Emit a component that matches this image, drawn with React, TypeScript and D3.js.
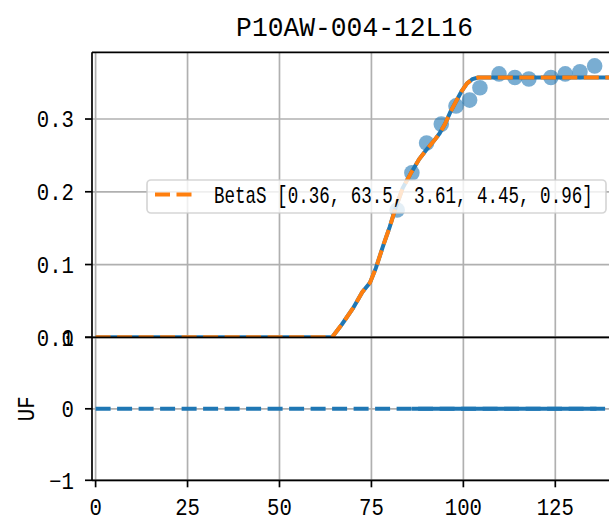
import React from "react";
import * as d3 from "d3";

const title = "P10AW-004-12L16";
const xTicks = [0, 25, 50, 75, 100, 125];
const yTopTicks = [0, 0.1, 0.2, 0.3];
const yTopLabels = ["0.0", "0.1", "0.2", "0.3"];
const yBotTicks = [-1, 0, 1];
const yBotLabels = ["\u22121", "0", "1"];

// observed data points
const pointX = [82, 86, 90, 94, 98, 101.7, 104.5, 109.7, 114, 117.8, 123.8, 127.7, 131.7, 135.7];
const pointY = [0.175, 0.226, 0.267, 0.293, 0.318, 0.326, 0.343, 0.362, 0.357, 0.355, 0.357, 0.362, 0.365, 0.373];

// fitted BetaS curve
const fitX = [0, 64.3, 67, 70, 72.5, 74.6, 76.2, 78.2, 80, 81.4, 83.5, 86, 88, 90, 92, 93.5, 95, 96.5, 98, 99.5, 101, 102.5, 104, 106, 110, 140, 175];
const fitY = [0, 0, 0.018, 0.04, 0.062, 0.075, 0.095, 0.126, 0.152, 0.175, 0.205, 0.228, 0.245, 0.258, 0.27, 0.28, 0.293, 0.31, 0.324, 0.338, 0.349, 0.355, 0.357, 0.357, 0.357, 0.357, 0.357];

// bottom panel (UF)
const ufLineX = [0, 175];
const ufLineY = [0, 0];
const ufX = [86, 90, 94, 98, 101.7, 104.5, 109.7, 114, 117.8, 123.8, 127.7, 131.7, 136.2];
const ufY = [0, 0, 0, 0, 0, 0, 0, 0, 0, 0, 0, 0, 0];

const legendLabel = "BetaS [0.36, 63.5, 3.61, 4.45, 0.96]";
const yLabel = "UF";

const BLUE = "#1f77b4";
const ORANGE = "#ff7f0e";
const GRID = "#b0b0b0";
const FONT = "'Liberation Mono', 'DejaVu Sans Mono', monospace";

export default function App() {
  const left = 92;
  const right = 609;
  const topY0 = 52.3;
  const midY = 337.3;
  const botY1 = 480.3;

  const x = d3.scaleLinear().domain([-0.98, 139.6]).range([left, right]);
  const yTop = d3.scaleLinear().domain([0, 0.3917]).range([midY, topY0]);
  const yBot = d3.scaleLinear().domain([-1, 1]).range([botY1, midY]);

  const lineTop = d3.line<number>().x((_, i) => x(fitX[i])).y((d) => yTop(d));
  const fitPath = lineTop(fitY) || "";
  const ufLine = d3.line<number>().x((_, i) => x(ufLineX[i])).y((d) => yBot(d))(ufLineY) || "";
  const ufSeg = d3.line<number>().x((_, i) => x(ufX[i])).y((d) => yBot(d))(ufY) || "";

  const lw = 4;
  const dash = "15,6.5";
  const tickFs = 23;
  const sx = 12.4 / (0.6 * tickFs);

  return (
    <svg
      width={609}
      height={522}
      style={{ position: "absolute", left: 0, top: 0, background: "white", overflow: "hidden" }}
      fontFamily={FONT}
    >
      <defs>
        <clipPath id="clipTop">
          <rect x={left} y={topY0} width={right - left + 5} height={midY - topY0} />
        </clipPath>
        <clipPath id="clipBot">
          <rect x={left} y={midY} width={right - left + 5} height={botY1 - midY} />
        </clipPath>
      </defs>
      <rect x={0} y={0} width={609} height={522} fill="white" />

      {/* title */}
      <text transform={`translate(354.5,36) scale(${237 / (15 * 0.6 * 28)},1)`} textAnchor="middle" fontSize={28} fill="#000">
        {title}
      </text>

      {/* top grid */}
      <g stroke={GRID} strokeWidth={1.7}>
        {xTicks.map((t) => (
          <line key={"gx" + t} x1={x(t)} x2={x(t)} y1={topY0} y2={midY} />
        ))}
        {yTopTicks.map((t) => (
          <line key={"gy" + t} x1={left} x2={right + 5} y1={yTop(t)} y2={yTop(t)} />
        ))}
      </g>
      {/* bottom grid */}
      <g stroke={GRID} strokeWidth={1.7}>
        {xTicks.map((t) => (
          <line key={"bgx" + t} x1={x(t)} x2={x(t)} y1={midY} y2={botY1} />
        ))}
        {yBotTicks.map((t) => (
          <line key={"bgy" + t} x1={left} x2={right + 5} y1={yBot(t)} y2={yBot(t)} />
        ))}
      </g>

      {/* top data */}
      <g clipPath="url(#clipTop)">
        {pointY.map((v, i) => (
          <circle key={"p" + i} cx={x(pointX[i])} cy={yTop(v)} r={7.8} fill={BLUE} fillOpacity={0.6} />
        ))}
        <path d={fitPath} fill="none" stroke={BLUE} strokeWidth={lw} />
        <path d={fitPath} fill="none" stroke={ORANGE} strokeWidth={lw} strokeDasharray={dash} />
      </g>

      {/* bottom data */}
      <g clipPath="url(#clipBot)">
        <path d={ufLine} fill="none" stroke={BLUE} strokeWidth={lw} strokeDasharray={dash} />
        <path d={ufSeg} fill="none" stroke={BLUE} strokeWidth={lw} />
      </g>

      {/* spines */}
      <g stroke="#000" strokeWidth={1.7} fill="none">
        <line x1={left} x2={right + 5} y1={topY0} y2={topY0} />
        <line x1={left} x2={left} y1={topY0} y2={botY1} />
        <line x1={left} x2={right + 5} y1={midY} y2={midY} />
        <line x1={left} x2={right + 5} y1={botY1} y2={botY1} />
      </g>

      {/* ticks */}
      <g stroke="#000" strokeWidth={1.7}>
        {yTopTicks.map((t) => (
          <line key={"ty" + t} x1={left - 7} x2={left} y1={yTop(t)} y2={yTop(t)} />
        ))}
        {yBotTicks.map((t) => (
          <line key={"by" + t} x1={left - 7} x2={left} y1={yBot(t)} y2={yBot(t)} />
        ))}
        {xTicks.map((t) => (
          <line key={"bx" + t} x1={x(t)} x2={x(t)} y1={botY1} y2={botY1 + 7} />
        ))}
      </g>
      <g fontSize={tickFs} fill="#000">
        {yTopTicks.map((t, i) => (
          <text key={"tl" + t} transform={`translate(74,${yTop(t)}) scale(${sx},1)`} dy="0.36em" textAnchor="end">
            {yTopLabels[i]}
          </text>
        ))}
        {yBotTicks.map((t, i) => (
          <text key={"bl" + t} transform={`translate(74,${yBot(t)}) scale(${sx},1)`} dy="0.36em" textAnchor="end">
            {yBotLabels[i]}
          </text>
        ))}
        {xTicks.map((t) => (
          <text key={"xl" + t} transform={`translate(${x(t)},514.5) scale(${sx},1)`} textAnchor="middle">
            {String(t)}
          </text>
        ))}
      </g>
      <text
        transform={`translate(34,${yBot(0)}) rotate(-90) scale(${sx},1)`}
        textAnchor="middle"
        fontSize={tickFs}
        fill="#000"
      >
        {yLabel}
      </text>

      {/* legend */}
      <g>
        <rect x={147} y={180} width={459} height={33} rx={4} fill="white" fillOpacity={0.8} stroke="#cccccc" strokeOpacity={0.8} strokeWidth={1.7} />
        <line x1={155} x2={197} y1={194.5} y2={194.5} stroke={ORANGE} strokeWidth={lw} strokeDasharray={dash} />
        <text transform={`translate(214,203.3) scale(${379 / (36 * 0.6 * 23)},1)`} fontSize={23} fill="#000">
          {legendLabel}
        </text>
      </g>
    </svg>
  );
}
